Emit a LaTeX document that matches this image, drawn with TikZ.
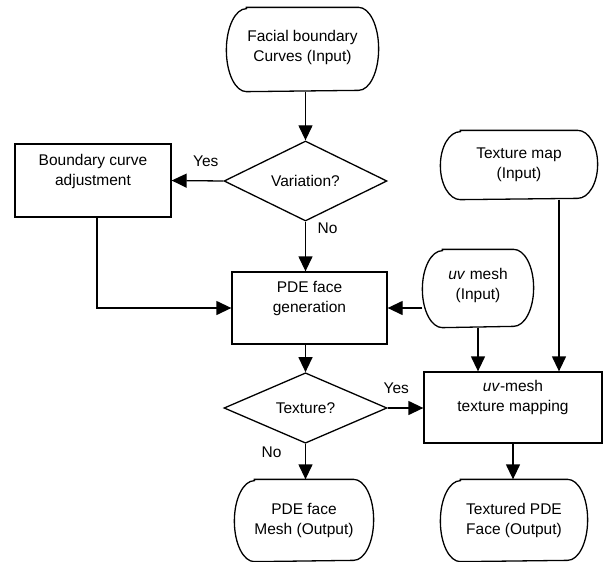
\documentclass[tikz,border=0pt]{standalone}
\usepackage{fontspec}
\setmainfont{Liberation Sans}
\usetikzlibrary{arrows.meta,shapes.geometric,calc}
\newcommand\shiftedtext[2]{\raisebox{\dimexpr#1pt-3.9pt\relax}[0pt][0pt]{\begin{tabular}{@{}c@{}}#2\end{tabular}}}
\newcommand\termoutline[2]{%
  \draw ($(#1.north west)+(20pt,0)$) -- ($(#1.north east)+(-20pt,0)$)
    arc[start angle=90,end angle=-90,x radius=20pt,y radius=#2pt]
    -- ($(#1.south west)+(20pt,0)$)
    arc[start angle=270,end angle=90,x radius=20pt,y radius=#2pt] -- cycle;}
\begin{document}
\begin{tikzpicture}[x=1pt,y=1pt,line width=1.3pt,
  font=\fontsize{15.5}{20}\selectfont,
  box/.style={draw,rectangle,inner sep=0pt,align=center},
  term/.style={rectangle,inner sep=0pt,align=center},
  dec/.style={draw,diamond,inner sep=0pt,align=center},
  arr/.style={-{Triangle[length=15pt,width=14pt]}},
  lbl/.style={inner sep=0pt}]
\useasboundingbox (0,0) rectangle (603,-562);

% terminals
\node[term,minimum width=151pt,minimum height=83pt] (fbc) at (302.5,-49.5)
  {\shiftedtext{2.5}{Facial boundary\\Curves (Input)}};
\termoutline{fbc}{41.5}
\node[term,minimum width=156pt,minimum height=68pt] (tmap) at (519,-165)
  {Texture map\\(Input)};
\termoutline{tmap}{34}
\node[term,minimum width=110pt,minimum height=77pt] (uvm) at (478,-288.5)
  {\shiftedtext{3.5}{\textit{uv} mesh\\(Input)}};
\termoutline{uvm}{38.5}
\node[term,minimum width=138pt,minimum height=81pt] (out1) at (304,-520.5)
  {PDE face\\Mesh (Output)};
\termoutline{out1}{40.5}
\node[term,minimum width=146pt,minimum height=81pt] (out2) at (514,-520.5)
  {Textured PDE\\Face (Output)};
\termoutline{out2}{40.5}

% process boxes
\node[box,minimum width=156pt,minimum height=73pt] (bca) at (93,-180.5)
  {\shiftedtext{9}{Boundary curve\\adjustment}};
\node[box,minimum width=155pt,minimum height=72pt] (pde) at (309.5,-308)
  {\shiftedtext{10}{PDE face\\generation}};
\node[box,minimum width=178pt,minimum height=71pt] (tm) at (513,-407.5)
  {\shiftedtext{10.5}{\textit{uv}-mesh\\texture mapping}};

% decisions
\node[dec,minimum width=163pt,minimum height=72pt] (var) at (305.5,-181) {Variation?};
\node[dec,minimum width=163pt,minimum height=70pt] (tex) at (305.5,-408) {Texture?};

% connectors
\draw[arr] (var.north |- fbc.south) -- (var.north);
\draw[arr] (var.west) -- node[lbl,pos=0.34,yshift=20pt]{Yes} (bca.east);
\draw[arr] (var.south) -- node[lbl,pos=0.14,xshift=22pt]{No} (var.south |- pde.north);
\coordinate (bcs) at ($(bca.south)+(4,0)$);
\draw[arr] (bcs) |- (pde.west);
\draw[arr] (pde.east -| uvm.west) -- (pde.east);
\draw[arr] (tex.north |- pde.south) -- (tex.north);
\draw[arr] (uvm.south) -- (uvm.south |- tm.north);
\coordinate (tmo) at ($(tmap.south)+(40,0)$);
\draw[arr] (tmo) -- (tmo |- tm.north);
\draw[arr] (tex.east) -- node[lbl,pos=0.24,yshift=20pt]{Yes} (tex.east -| tm.west);
\draw[arr] (tex.south) -- node[lbl,pos=0.24,xshift=-34pt]{No} (tex.south |- out1.north);
\draw[arr] (tm.south) -- (tm.south |- out2.north);
\end{tikzpicture}
\end{document}
